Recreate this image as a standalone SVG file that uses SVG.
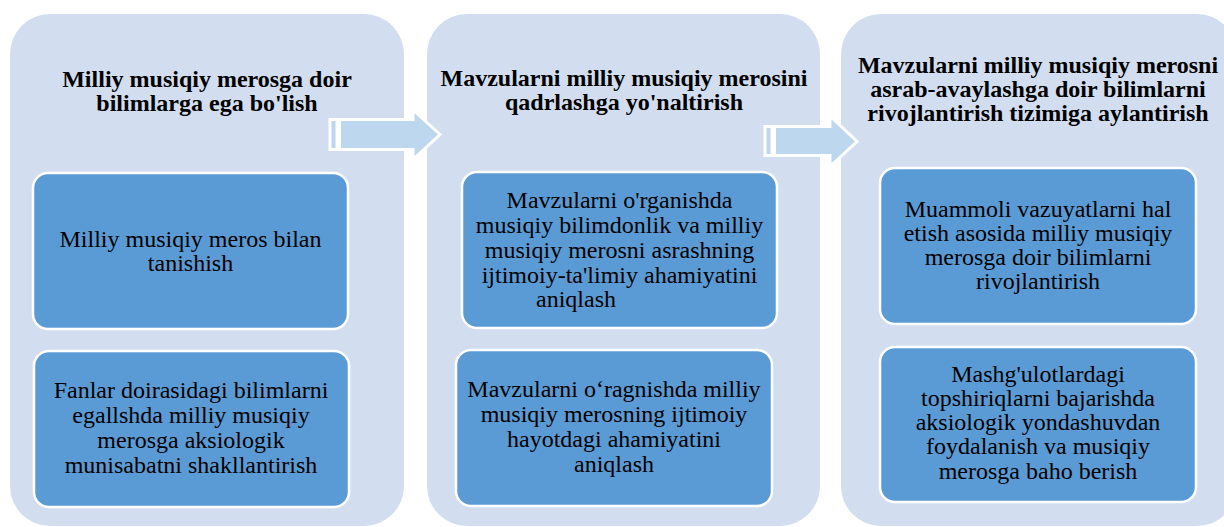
<svg xmlns="http://www.w3.org/2000/svg" width="1224" height="527" viewBox="0 0 1224 527">
<style>
.panel{fill:#D2DEEF;}
.box{fill:#5B9BD5;stroke:#FFFFFF;stroke-width:2.5;}
.arrow{fill:#BDD7EE;stroke:#FFFFFF;stroke-width:3;stroke-linejoin:miter;}
.title{font-family:"Liberation Serif","Times New Roman",serif;font-weight:bold;font-size:24px;fill:#000;text-anchor:middle;}
.txt{font-family:"Liberation Serif","Times New Roman",serif;font-size:24px;fill:#000;text-anchor:middle;}
</style>
<rect width="1224" height="527" fill="#FFFFFF"/>
<g id="panel1">
<rect class="panel" x="10" y="14" width="394" height="512" rx="40" ry="40"/>
<text class="title"><tspan x="207" y="86.5">Milliy musiqiy merosga doir</tspan><tspan x="207" y="110.5">bilimlarga ega bo'lish</tspan></text>
</g>
<g id="panel2">
<rect class="panel" x="427" y="14" width="393" height="512" rx="40" ry="40"/>
<text class="title"><tspan x="624" y="86">Mavzularni milliy musiqiy merosini</tspan><tspan x="624" y="110">qadrlashga yo'naltirish</tspan></text>
</g>
<g id="panel3">
<rect class="panel" x="841" y="14" width="396" height="512" rx="40" ry="40"/>
<text class="title"><tspan x="1038" y="73">Mavzularni milliy musiqiy merosni</tspan><tspan x="1038" y="97">asrab-avaylashga doir bilimlarni</tspan><tspan x="1038" y="121">rivojlantirish tizimiga aylantirish</tspan></text>
</g>
<g id="box1a">
<rect class="box" x="33" y="173" width="315" height="156" rx="15" ry="15"/>
<text class="txt"><tspan x="190.5" y="246.5">Milliy musiqiy meros bilan</tspan><tspan x="190.5" y="270.5">tanishish</tspan></text>
</g>
<g id="box1b">
<rect class="box" x="34" y="351" width="315" height="156" rx="15" ry="15"/>
<text class="txt"><tspan x="191" y="398">Fanlar doirasidagi bilimlarni</tspan><tspan x="191" y="423">egallshda milliy musiqiy</tspan><tspan x="191" y="448">merosga aksiologik</tspan><tspan x="191" y="473">munisabatni shakllantirish</tspan></text>
</g>
<g id="box2a">
<rect class="box" x="462" y="172" width="315" height="156" rx="15" ry="15"/>
<text class="txt"><tspan x="619.5" y="208">Mavzularni o'rganishda</tspan><tspan x="619.5" y="233">musiqiy bilimdonlik va milliy</tspan><tspan x="619.5" y="258">musiqiy merosni asrashning</tspan><tspan x="619.5" y="283">ijtimoiy-ta'limiy ahamiyatini</tspan><tspan x="576" y="307">aniqlash</tspan></text>
</g>
<g id="box2b">
<rect class="box" x="456" y="350" width="316" height="156" rx="15" ry="15"/>
<text class="txt"><tspan x="614" y="397">Mavzularni o‘ragnishda milliy</tspan><tspan x="614" y="422">musiqiy merosning ijtimoiy</tspan><tspan x="614" y="447">hayotdagi ahamiyatini</tspan><tspan x="614" y="472">aniqlash</tspan></text>
</g>
<g id="box3a">
<rect class="box" x="880" y="168" width="316" height="156" rx="15" ry="15"/>
<text class="txt"><tspan x="1038" y="217">Muammoli vazuyatlarni hal</tspan><tspan x="1038" y="241">etish asosida milliy musiqiy</tspan><tspan x="1038" y="265">merosga doir bilimlarni</tspan><tspan x="1038" y="289">rivojlantirish</tspan></text>
</g>
<g id="box3b">
<rect class="box" x="880" y="347" width="316" height="155" rx="15" ry="15"/>
<text class="txt"><tspan x="1038" y="382">Mashg'ulotlardagi</tspan><tspan x="1038" y="406">topshiriqlarni bajarishda</tspan><tspan x="1038" y="430">aksiologik yondashuvdan</tspan><tspan x="1038" y="454">foydalanish va musiqiy</tspan><tspan x="1038" y="479">merosga baho berish</tspan></text>
</g>
<g id="connectors">
<rect class="arrow" x="330" y="119.5" width="7" height="30"/>
<polygon class="arrow" points="339.5,119.5 413,119.5 413,110 440,134.5 413,159.5 413,149.5 339.5,149.5"/>
<rect class="arrow" x="765" y="126.5" width="7" height="29"/>
<polygon class="arrow" points="774.5,126.5 830,126.5 830,116 857,141.5 830,166.5 830,155.5 774.5,155.5"/>
</g>
</svg>
